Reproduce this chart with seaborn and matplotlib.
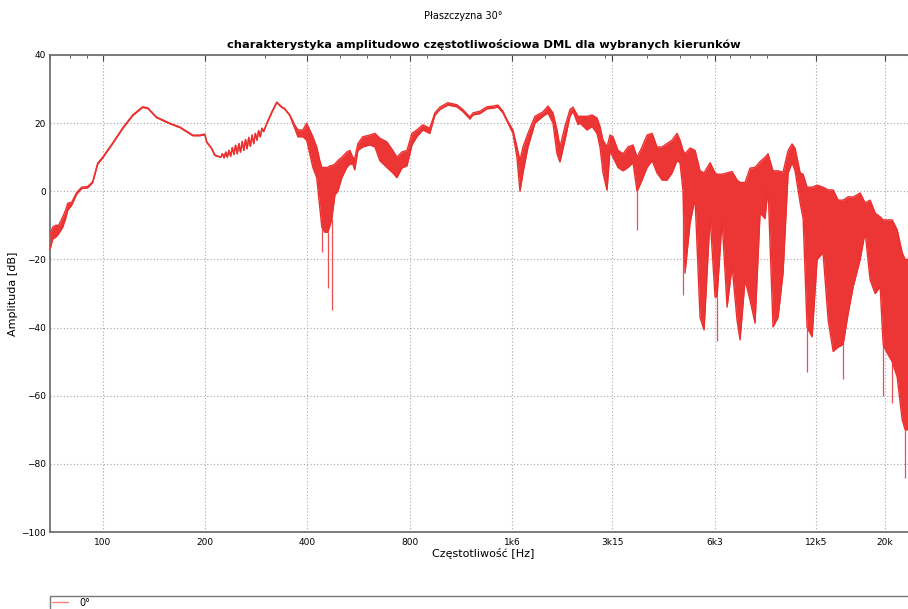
import numpy as np
import pandas as pd
import matplotlib
matplotlib.use("Agg")
import matplotlib.pyplot as plt
from matplotlib.ticker import FixedLocator, FixedFormatter, LogLocator, NullFormatter, MultipleLocator
from matplotlib.lines import Line2D
import seaborn as sns

# ---- data (envelope of the dense response) ----
freq_hz = [70, 71.3, 72.7, 74.2, 76.3, 77.8, 78.9, 81.1, 83.9, 86.7, 90.3, 93.4, 96.7,
           100, 107, 114.5, 122.5, 131, 135.7, 144, 157.5, 168.5, 184, 193, 199.6,
           202.4, 209, 213.6,
           222.5, 225.0, 227.5, 230.1, 232.6, 235.2, 237.9, 240.5, 243.2, 245.9,
           248.7, 251.5, 254.3, 257.2, 260.1, 263.0, 265.9, 268.9, 271.9, 275.0,
           278.1, 281.2, 284.3, 287.5, 290.8, 294.0, 297.3,
           303.8, 314.3, 325,
           336, 343, 355, 367, 375, 388, 398, 406.5, 415, 426, 435, 441, 450, 459, 466,
           472, 482, 491.5, 505, 522, 533, 544, 551, 563, 582, 610, 632, 653, 685, 713,
           733, 758, 785, 812, 839, 874, 916, 948, 981, 1035, 1100, 1146, 1202, 1227,
           1286, 1349, 1405, 1453, 1503, 1555, 1609, 1653, 1687, 1722, 1781, 1867, 1971,
           2039, 2110, 2168, 2212, 2288, 2367, 2416, 2499, 2533, 2656, 2748, 2843, 2901,
           2961, 3042, 3104, 3167, 3277, 3390, 3507, 3628, 3728, 3857, 3990, 4128, 4267,
           4415, 4567, 4725, 4888, 4987, 5091, 5159, 5337, 5522, 5712, 5869, 6113, 6322,
           6409, 6630, 6859, 7096, 7338, 7489, 7749, 8016, 8290, 8577, 8872, 9051, 9363,
           9687, 10020, 10370, 10650, 10870, 11250, 11480, 11790, 12200, 12620, 13140,
           13600, 14070, 14550, 15050, 15580, 16110, 16890, 17470, 18070, 18700, 19340,
           19740, 20280, 20980, 21700, 22450, 22910, 23380, 24020]

upper_db = [-12.5, -10.5, -10, -10, -7.5, -5.5, -3.5, -3.2, -0.3, 1.2, 1.4, 2.8, 8.3,
            10, 14.2, 18.6, 22.4, 24.8, 24.5, 21.8, 20, 18.9, 16.5, 16.5, 16.8,
            14.5, 12.7, 10.7,
            10.0, 11.0, 9.8, 11.5, 10.0, 12.0, 10.3, 12.8, 10.8, 13.5,
            11.0, 14.0, 11.5, 14.6, 12.0, 15.2, 12.5, 15.8, 13.2, 16.5,
            14.0, 17.0, 15.0, 17.8, 16.0, 18.5, 17.5,
            20, 23.3, 26.2,
            24.8, 24.3, 22.4, 19.5, 18, 18, 20, 18, 16, 13, 9, 7, 7, 7, 7.5,
            7.5, 8, 9, 10, 11.5, 12, 10, 9.5, 14, 16, 16.5, 17, 15.6, 14.5, 12,
            10, 11.5, 12, 17, 18, 19.5, 18.5, 23, 24.7, 26, 25.4, 24, 21.8, 23,
            23.5, 24.8, 25, 25.3, 23.5, 20.5, 18, 13, 9, 13, 17, 22, 23.3,
            25, 23, 18, 13, 19, 24, 24.7, 22, 22, 22, 22.4, 21.5, 19,
            15, 13, 16.5, 16, 12, 11, 13, 13.6, 10, 13, 16.5, 17, 13,
            13, 14, 15, 17, 15, 12, 11, 12.7, 12, 6, 5.4, 8.4, 5.4,
            5, 5, 5.4, 5.8, 3.3, 2.6, 2.6, 6.8, 7, 8.7, 10, 11, 6,
            6, 5.6, 12, 13.9, 12.6, 5.4, 5, 1.2, 1.2, 1.8, 1.2,
            0.4, 0.4, -2.6, -2.6, -1.6, -1.7, -0.5, -3.4, -2.6, -6.4, -7.5,
            -8.4, -8.4, -8.4, -11.3, -18, -20, -20, -22]

lower_db = [-17, -14, -13.5, -12.5, -10.5, -8, -5.6, -4, -0.8, 0.8, 1.0, 2.5, 8.0,
            9.8, 14.0, 18.4, 22.2, 24.6, 24.3, 21.6, 19.8, 18.7, 16.3, 16.3, 16.6,
            14.3, 12.5, 10.5,
            10.0, 11.0, 9.8, 11.5, 10.0, 12.0, 10.3, 12.8, 10.8, 13.5,
            11.0, 14.0, 11.5, 14.6, 12.0, 15.2, 12.5, 15.8, 13.2, 16.5,
            14.0, 17.0, 15.0, 17.8, 16.0, 18.5, 17.5,
            19.8, 23.1, 26.0,
            24.6, 24.1, 22.2, 18.5, 16, 16, 15, 11, 7, 4, -4.6, -10.5, -12, -12, -10,
            -8, -1, 0, 4, 7, 8, 8, 6.3, 12, 13, 13.6, 13, 9, 7, 5.4,
            4, 6.8, 7.5, 13.6, 16, 18, 17, 22.3, 24, 25.3, 24.8, 23.4, 21.2, 22.4,
            22.8, 24.2, 24.4, 24.7, 23, 20, 17, 10, 0, 5.4, 13, 20, 22,
            23, 20, 11, 8.6, 15, 22, 23.5, 19.6, 20, 18, 19, 17, 13,
            5.4, 0.3, 12, 10, 7, 6, 7, 8.4, 0, 3.3, 7, 9, 5.4,
            3.3, 3.3, 5.4, 9, 8.4, 0, -24, -9.4, -2, -37, -40.7, -7.5, -31,
            -31, -8.5, -34, -22, -37.8, -43.6, -26, -32, -38.7, -6.4, -8, 1.2, -39.8,
            -37, -24, 5.4, 8.4, 6, -3.4, -8, -40, -42.7, -20, -18,
            -37.8, -47, -45.7, -45, -35.7, -28, -20, -12, -26, -30, -28,
            -45, -47.5, -50, -54.5, -67, -70, -70, -72]

# isolated narrow dips
spike_freq_hz = [441, 459, 472, 3728, 5091, 6409, 11790, 15050, 19740, 20980, 22910]
spike_top_db = [-10.5, -12, -8, 0, 0, -31, -40, -45, -45, -50, -70]
spike_bottom_db = [-17.8, -28.4, -34.8, -11.4, -30.4, -44, -53, -55, -60, -62, -84]

xtick_values = [100, 200, 400, 800, 1600, 3150, 6300, 12500, 20000]
xtick_labels = ["100", "200", "400", "800", "1k6", "3k15", "6k3", "12k5", "20k"]
ytick_values = [-100, -80, -60, -40, -20, 0, 20, 40]

series_label = "0°"
suptitle = "Płaszczyzna 30°"
title = "charakterystyka amplitudowo częstotliwościowa DML dla wybranych kierunków"
xlabel = "Częstotliwość [Hz]"
ylabel = "Amplituda [dB]"

assert len(freq_hz) == len(upper_db) == len(lower_db)

sns.set_style("white")
plt.rcParams["font.family"] = ["DejaVu Sans"]
plt.rcParams["text.color"] = "black"
plt.rcParams["axes.labelcolor"] = "black"

red = "#ec2f2f"

fig = plt.figure(figsize=(9.08, 6.09), dpi=100)
ax = fig.add_axes([0.0551, 0.1264, 0.955, 0.7833])

df = pd.DataFrame({"freq": freq_hz, "upper": upper_db, "lower": lower_db})

ax.fill_between(df["freq"], df["lower"], df["upper"], color=red, alpha=0.97,
                linewidth=0, zorder=3)
sns.lineplot(data=df, x="freq", y="upper", ax=ax, color=red, linewidth=1.0,
             estimator=None, sort=False, zorder=4, legend=False)
sns.lineplot(data=df, x="freq", y="lower", ax=ax, color=red, linewidth=1.0,
             estimator=None, sort=False, zorder=4, legend=False)
ax.vlines(spike_freq_hz, spike_bottom_db, spike_top_db, color=red, linewidth=0.9,
          alpha=0.85, zorder=3)

ax.set_xscale("log")
ax.set_xlim(70, 24850)
ax.set_ylim(-100, 40)

ax.xaxis.set_major_locator(FixedLocator(xtick_values))
ax.xaxis.set_major_formatter(FixedFormatter(xtick_labels))
ax.xaxis.set_minor_locator(LogLocator(base=10, subs=np.arange(2, 10)))
ax.xaxis.set_minor_formatter(NullFormatter())
ax.yaxis.set_major_locator(FixedLocator(ytick_values))
ax.yaxis.set_minor_locator(MultipleLocator(5))

ax.tick_params(which="both", direction="in", top=True, right=True, colors="#444444",
               labelcolor="black", labelsize=6.5)
ax.tick_params(which="major", length=4, width=0.8)
ax.tick_params(which="minor", length=2, width=0.6)
ax.tick_params(axis="x", pad=4)
ax.tick_params(axis="y", pad=3)

ax.grid(True, which="major", linestyle=(0, (1, 2)), color="#a8a8a8", linewidth=0.8)
for s in ax.spines.values():
    s.set_color("#666666")
    s.set_linewidth(1.2)

ax.set_xlabel(xlabel, fontsize=8, labelpad=1)
ax.set_ylabel(ylabel, fontsize=8, labelpad=2)
ax.set_title(title, fontsize=8.2, fontweight="bold", pad=5, color="black")
fig.text(0.51, 0.974, suptitle, ha="center", va="center", fontsize=7, color="black")

handle = Line2D([], [], color=red, alpha=0.6, linewidth=1.0)
leg = ax.legend([handle], [series_label], loc="upper left",
                bbox_to_anchor=(0.0551, 0.0215, 0.955, 0.0),
                bbox_transform=fig.transFigure, mode="expand", frameon=True,
                fancybox=False, fontsize=7, borderaxespad=0, handlelength=1.6,
                handletextpad=1.2, borderpad=0.2)
leg.get_frame().set_edgecolor("#555555")
leg.get_frame().set_linewidth(1.0)

fig.savefig("out.png", dpi=100)
